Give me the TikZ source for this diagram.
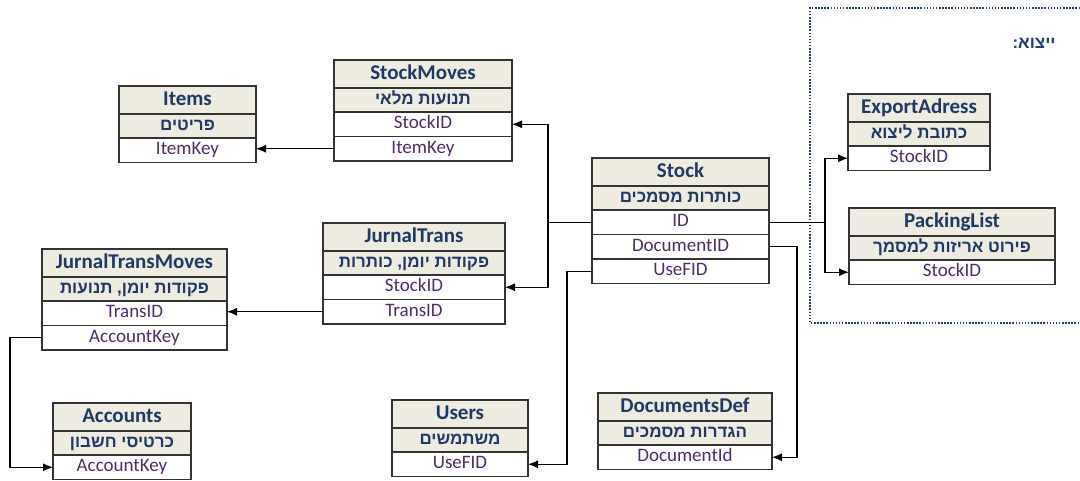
\documentclass[tikz,border=0pt]{standalone}
\usepackage{fontspec}
\setmainfont{Carlito}
\newfontfamily\hebfont[Script=Hebrew]{Liberation Sans}
\TeXXeTstate=1
\usepackage{tikz}
\usetikzlibrary{positioning,arrows.meta}
\definecolor{tablebg}{RGB}{238,236,225}
\definecolor{titleblue}{RGB}{31,56,100}
\definecolor{fieldpurple}{RGB}{78,44,112}
\definecolor{framenavy}{RGB}{35,60,125}
\tikzstyle{trow}=[draw=black!80,line width=1.1pt,outer sep=0pt,inner sep=0pt,align=center]
\tikzstyle{thead}=[trow,fill=tablebg,minimum height=28pt,text=titleblue,font=\fontsize{21}{24}\selectfont\bfseries,text height=14pt,text depth=4pt]
\tikzstyle{theb}=[trow,fill=tablebg,minimum height=24pt,text=titleblue,font=\hebfont\fontsize{17}{20}\selectfont\bfseries,text height=12pt,text depth=3pt]
\tikzstyle{tfield}=[trow,fill=white,minimum height=24.5pt,text=fieldpurple,font=\fontsize{19}{22}\selectfont,text height=13pt,text depth=4pt]
\tikzstyle{link}=[-{Latex[length=10pt,width=8pt]},line width=1.1pt]
\tikzstyle{wire}=[line width=1.1pt]
\tikzstyle{frame}=[draw=framenavy,line width=2.5pt,dash pattern=on 1.5pt off 1.6pt]

\begin{document}
\begin{tikzpicture}[x=1pt,y=-1pt]
\useasboundingbox (0,0) rectangle (1080,480);

% export frame
\draw[frame] (1080,8) -- (810,8) -- (810,323) -- (1080,323);
\node[text=framenavy,font=\hebfont\fontsize{17}{20}\selectfont\bfseries] (exportlbl) at (1034,43) {\beginR ייצוא:\endR};

% tables
\node[thead,minimum width=137pt,anchor=north west] (items) at (119,86) {Items};
\node[theb,minimum width=137pt,below=0pt of items] (items-he) {\beginR פריטים\endR};
\node[tfield,minimum width=137pt,below=0pt of items-he] (items-key) {ItemKey};

\node[thead,minimum width=178pt,anchor=north west] (smoves) at (334,60) {StockMoves};
\node[theb,minimum width=178pt,below=0pt of smoves] (smoves-he) {\beginR תנועות מלאי\endR};
\node[tfield,minimum width=178pt,below=0pt of smoves-he] (smoves-id) {StockID};
\node[tfield,minimum width=178pt,below=0pt of smoves-id] (smoves-key) {ItemKey};

\node[thead,minimum width=182pt,anchor=north west] (jtrans) at (323,223) {JurnalTrans};
\node[theb,minimum width=182pt,below=0pt of jtrans] (jtrans-he) {\beginR פקודות יומן, כותרות\endR};
\node[tfield,minimum width=182pt,below=0pt of jtrans-he] (jtrans-id) {StockID};
\node[tfield,minimum width=182pt,below=0pt of jtrans-id] (jtrans-tid) {TransID};

\node[thead,minimum width=177pt,anchor=north west] (stock) at (592,158) {Stock};
\node[theb,minimum width=177pt,below=0pt of stock] (stock-he) {\beginR כותרות מסמכים\endR};
\node[tfield,minimum width=177pt,below=0pt of stock-he] (stock-id) {ID};
\node[tfield,minimum width=177pt,below=0pt of stock-id] (stock-doc) {DocumentID};
\node[tfield,minimum width=177pt,below=0pt of stock-doc] (stock-use) {UseFID};

\node[thead,minimum width=142pt,anchor=north west] (expaddr) at (848,94) {ExportAdress};
\node[theb,minimum width=142pt,below=0pt of expaddr] (expaddr-he) {\beginR כתובת ליצוא\endR};
\node[tfield,minimum width=142pt,below=0pt of expaddr-he] (expaddr-id) {StockID};

\node[thead,minimum width=206pt,anchor=north west] (packlist) at (849,208) {PackingList};
\node[theb,minimum width=206pt,below=0pt of packlist] (packlist-he) {\beginR פירוט אריזות למסמך\endR};
\node[tfield,minimum width=206pt,below=0pt of packlist-he] (packlist-id) {StockID};

\node[thead,minimum width=185pt,anchor=north west] (jtmoves) at (42,249) {JurnalTransMoves};
\node[theb,minimum width=185pt,below=0pt of jtmoves] (jtmoves-he) {\beginR פקודות יומן, תנועות\endR};
\node[tfield,minimum width=185pt,below=0pt of jtmoves-he] (jtmoves-tid) {TransID};
\node[tfield,minimum width=185pt,below=0pt of jtmoves-tid] (jtmoves-acc) {AccountKey};

\node[thead,minimum width=138pt,anchor=north west] (accounts) at (53,403) {Accounts};
\node[theb,minimum width=138pt,below=0pt of accounts] (accounts-he) {\beginR כרטיסי חשבון\endR};
\node[tfield,minimum width=138pt,below=0pt of accounts-he] (accounts-key) {AccountKey};

\node[thead,minimum width=136pt,anchor=north west] (users) at (392,400) {Users};
\node[theb,minimum width=136pt,below=0pt of users] (users-he) {\beginR משתמשים\endR};
\node[tfield,minimum width=136pt,below=0pt of users-he] (users-fid) {UseFID};

\node[thead,minimum width=174pt,anchor=north west] (docsdef) at (598,393) {DocumentsDef};
\node[theb,minimum width=174pt,below=0pt of docsdef] (docsdef-he) {\beginR הגדרות מסמכים\endR};
\node[tfield,minimum width=174pt,below=0pt of docsdef-he] (docsdef-id) {DocumentId};

% relations
\coordinate (idleft) at ([xshift=-44pt]stock-id.west);
\coordinate (idright) at ([xshift=56pt]stock-id.east);

\draw[link] (smoves-key.west) -- (items-key.east |- smoves-key.west);
\draw[wire] (stock-id.west) -- (idleft);
\draw[link] (idleft) |- (smoves-id.east);
\draw[link] (idleft) |- (jtrans-id.east);
\draw[link] (jtrans-tid.west) -- (jtmoves-tid.east |- jtrans-tid.west);
\draw[link] (jtmoves-acc.west) -- ++(-32,0) |- (accounts-key.west);
\draw[wire] (stock-id.east) -- (idright);
\draw[link] (idright) |- (expaddr-id.west);
\draw[link] (idright) |- (packlist-id.west);
\draw[link] (stock-doc.east) -- ++(28,0) |- (docsdef-id.east);
\draw[link] (stock-use.west) -- ++(-25,0) |- (users-fid.east);

\end{tikzpicture}
\end{document}
